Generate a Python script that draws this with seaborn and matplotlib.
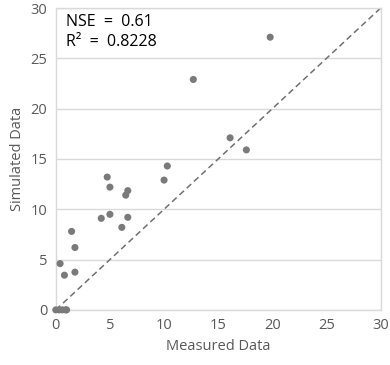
import matplotlib
matplotlib.use("Agg")
import matplotlib.pyplot as plt
import seaborn as sns
import pandas as pd
import numpy as np

measured = [19.8, 12.7, 16.1, 17.6, 10.3, 10.0, 4.75, 5.0, 6.65, 6.46, 4.2, 5.0, 6.65, 6.1,
            1.46, 1.77, 0.4, 0.8, 1.77, 0.0, 0.3, 0.6, 0.9, 1.0]
simulated = [27.1, 22.9, 17.1, 15.9, 14.3, 12.9, 13.2, 12.2, 11.85, 11.4, 9.1, 9.5, 9.2, 8.2,
             7.8, 6.2, 4.6, 3.45, 3.75, 0.0, 0.0, 0.0, 0.0, 0.0]
ticks = [0, 5, 10, 15, 20, 25, 30]
stats_text = ["NSE  =  0.61", "R²  =  0.8228"]

df = pd.DataFrame({"Measured Data": measured, "Simulated Data": simulated})

sns.set_theme(style="white")
plt.rcParams['font.family'] = ['Open Sans', 'DejaVu Sans']

fig = plt.figure(figsize=(3.9, 3.65), dpi=100)
ax = fig.add_axes([0.143, 0.151, 0.833, 0.827])

ax.plot([0, 30], [0, 30], linestyle=(0, (4, 2.5)), color="#707070", linewidth=1.1, zorder=2)
sns.scatterplot(data=df, x="Measured Data", y="Simulated Data", ax=ax, color="#7a7a7a",
                s=26, edgecolor="none", zorder=3, clip_on=False)

ax.set_xlim(0, 30)
ax.set_ylim(0, 30)
ax.set_xticks(ticks)
ax.set_yticks(ticks)
ax.yaxis.grid(True, color="#d9d9d9", linewidth=1)
ax.xaxis.grid(False)
ax.set_axisbelow(True)
for s in ax.spines.values():
    s.set_color("#d9d9d9")
    s.set_linewidth(1)
ax.tick_params(axis="both", length=0, labelsize=10.5, labelcolor="#595959", pad=6)
ax.set_xlabel("Measured Data", fontsize=10.5, color="#595959", labelpad=4)
ax.set_ylabel("Simulated Data", fontsize=10.5, color="#595959", labelpad=4)

ax.text(0.03, 0.98, stats_text[0] + "\n" + stats_text[1], transform=ax.transAxes,
        fontsize=11.5, color="#000000", va="top", ha="left", linespacing=1.3)

fig.savefig("out.png", dpi=100)
